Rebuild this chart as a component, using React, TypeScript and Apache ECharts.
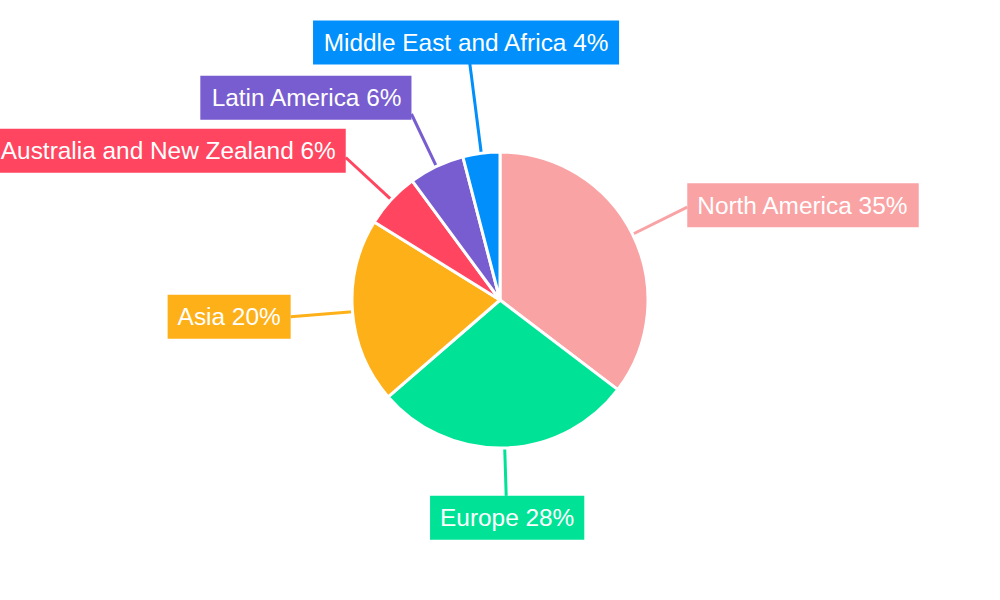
import React, { useEffect, useRef } from "react";
import * as echarts from "echarts";

// Regional share, in percent
const regions = [
  "North America",
  "Europe",
  "Asia",
  "Australia and New Zealand",
  "Latin America",
  "Middle East and Africa",
];
const shares = [35, 28, 20, 6, 6, 4];
const colors = ["#F9A3A4", "#00E396", "#FEB019", "#FF4560", "#775DD0", "#008FFB"];
// leader line length per slice, px
const leaderLengths = [61, 48, 62, 62, 58, 90];

const RADIUS = 148;
const BOX_H = 44;

export default function App() {
  const ref = useRef<HTMLDivElement>(null);

  useEffect(() => {
    document.body.style.margin = "0";
    if (!ref.current) return;
    const chart = echarts.init(ref.current, null, { renderer: "svg" });

    const total = shares.reduce((a, b) => a + b, 0);
    const midAngles: number[] = [];
    let acc = 0;
    shares.forEach((v) => {
      // degrees in standard orientation, start at 12 o'clock going clockwise
      midAngles.push(90 - ((acc + v / 2) / total) * 360);
      acc += v;
    });

    const data = regions.map((name, i) => ({
      name,
      value: shares[i],
      itemStyle: { color: colors[i] },
      label: { backgroundColor: colors[i] },
      labelLine: { lineStyle: { color: colors[i] } },
    }));

    chart.setOption({
      animation: false,
      series: [
        {
          type: "pie",
          center: ["50%", "50%"],
          radius: RADIUS,
          startAngle: 90,
          clockwise: true,
          data,
          itemStyle: { borderColor: "#ffffff", borderWidth: 3 },
          label: {
            show: true,
            position: "outside",
            formatter: "{b} {c}%",
            color: "#ffffff",
            fontFamily: "Liberation Sans, Arial, sans-serif",
            fontSize: 24.4,
            lineHeight: 24,
            padding: [10, 10],
            overflow: "none",
            edgeDistance: 0,
            bleedMargin: 0,
            distanceToLabelLine: 0,
          },
          labelLine: {
            show: true,
            length: 0,
            length2: 0,
            smooth: false,
            lineStyle: { width: 3 },
          },
          labelLayout: (params: any) => {
            const i = params.dataIndex;
            const cx = chart.getWidth() / 2;
            const cy = chart.getHeight() / 2;
            const t = (midAngles[i] * Math.PI) / 180;
            const c = Math.cos(t);
            const s = Math.sin(t);
            const sx = cx + RADIUS * c;
            const sy = cy - RADIUS * s;
            const r2 = RADIUS + leaderLengths[i];
            const ex = cx + r2 * c;
            const ey = cy - r2 * s;
            const align = Math.abs(c) < 0.3 ? "center" : c > 0 ? "left" : "right";
            return {
              x: align === "center" ? ex + c * 30 : ex,
              y: ey - s * s * s * (BOX_H / 2),
              align,
              verticalAlign: "middle",
              labelLinePoints: [
                [sx, sy],
                [ex, ey],
                [ex, ey],
              ],
            };
          },
        },
      ],
    });

    return () => chart.dispose();
  }, []);

  return <div ref={ref} style={{ width: 1000, height: 600 }} />;
}
